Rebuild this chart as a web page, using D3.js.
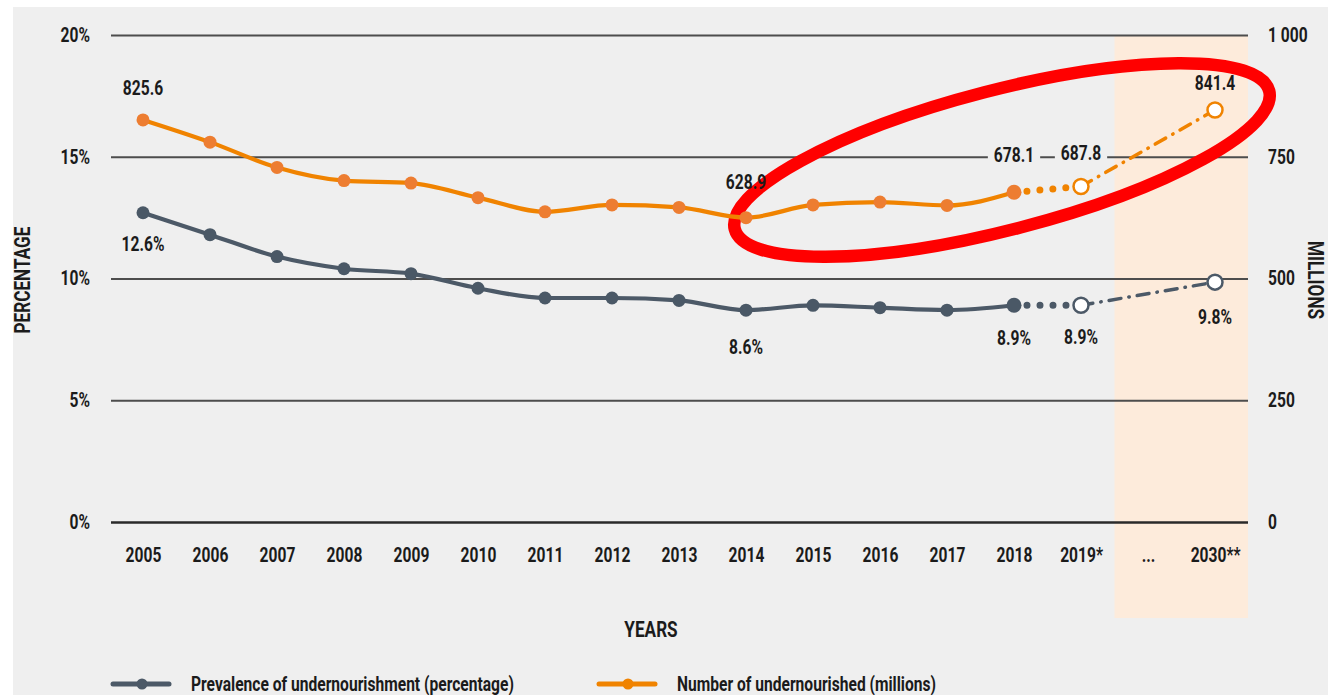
<!DOCTYPE html>
<html>
<head>
<meta charset="utf-8">
<script src="https://cdn.jsdelivr.net/npm/d3@7"></script>
<style>
	body { margin: 0; background: #ffffff; }
	svg text {
		font-family: "Roboto", "DejaVu Sans Condensed", sans-serif;
		font-weight: bold;
		fill: #1b1b1b;
	}
	.cond { transform-box: fill-box; transform: scaleX(0.78); }
	.title { transform-box: fill-box; transform: scaleX(0.78); }
	.mid { transform-origin: center; }
	.end { transform-origin: right center; }
	.start { transform-origin: left center; }
</style>
</head>
<body>
<svg id="chart" width="1328" height="695"></svg>
<script>
// Chart data
const years = ["2005", "2006", "2007", "2008", "2009", "2010", "2011", "2012", "2013", "2014", "2015", "2016", "2017", "2018", "2019*", "...", "2030**"];
const prevalence = [12.7, 11.8, 10.9, 10.4, 10.2, 9.6, 9.2, 9.2, 9.1, 8.7, 8.9, 8.8, 8.7, 8.9, 8.9, null, 9.85];
const undernourished = [825.6, 780, 728, 701, 696, 666, 637, 651, 646, 625, 651, 657, 650, 677, 689, null, 846];
const leftTicks = [0, 5, 10, 15, 20];
const rightTicks = [0, 250, 500, 750, 1000];
const prevalenceLabels = [["2005", "12.6%"], ["2014", "8.6%"], ["2018", "8.9%"], ["2019*", "8.9%"], ["2030**", "9.8%"]];
const numberLabels = [["2005", "825.6"], ["2014", "628.9"], ["2018", "678.1"], ["2019*", "687.8"], ["2030**", "841.4"]];
const projected = ["2019*", "2030**"];

const grey = "#4c5967";
const orange = "#f08300";
const orangeDot = "#ed7d31";
const panel = "#efefef";
const shadeColor = "#fdebdb";
const textScale = 0.78;
// label offsets from their point (pixels)
const numberLabelDy = [-32, -36, -37, -34, -27];
const prevalenceLabelDy = [31, 37, 33, 32, 35];

const svg = d3.select("#chart");

const x = d3.scalePoint().domain(years).range([143, 1215]);
const yL = d3.scaleLinear().domain([0, 20]).range([522, 35]);
const yR = d3.scaleLinear().domain([0, 1000]).range([522, 35]);
const gridLeft = 111;
const gridRight = 1248;

const spaceFormat = d3.formatLocale({ decimal: ".", thousands: " ", grouping: [3], currency: ["", ""] }).format(",");

// background panel
svg.append("rect").attr("x", 13).attr("y", 7).attr("width", 1315).attr("height", 688).attr("fill", panel);

// projection band
const bandX0 = (x("2019*") + x("...")) / 2;
svg.append("rect")
	.attr("x", bandX0).attr("y", yL(20))
	.attr("width", gridRight - bandX0).attr("height", 618 - yL(20))
	.attr("fill", shadeColor);

// left axis + gridlines
const leftAxis = svg.append("g")
	.attr("transform", `translate(${gridLeft},0)`)
	.call(d3.axisLeft(yL).tickValues(leftTicks).tickSize(-(gridRight - gridLeft)).tickPadding(21).tickFormat((d) => d + "%"));
leftAxis.select(".domain").remove();
leftAxis.selectAll("line")
	.attr("stroke", (d) => (d === 0 ? "#2a2a2a" : "#4d4d4d"))
	.attr("stroke-width", (d) => (d === 0 ? 2.6 : 2));
leftAxis.selectAll("text").attr("class", "cond end").style("font-size", "20px").attr("fill", "#1b1b1b");

// right axis
const rightAxis = svg.append("g")
	.attr("transform", `translate(${gridRight},0)`)
	.call(d3.axisRight(yR).tickValues(rightTicks).tickSize(0).tickPadding(20).tickFormat(spaceFormat));
rightAxis.select(".domain").remove();
rightAxis.selectAll("text").attr("class", "cond start").style("font-size", "20px").attr("fill", "#1b1b1b");

// bottom axis labels
const bottomAxis = svg.append("g")
	.attr("transform", `translate(0,${yL(0)})`)
	.call(d3.axisBottom(x).tickSize(0).tickPadding(26));
bottomAxis.select(".domain").remove();
bottomAxis.selectAll("text").attr("class", "cond mid").style("font-size", "20px").attr("fill", "#1b1b1b");

// axis titles
function title(tx, ty, angle, txt) {
	svg.append("g")
		.attr("transform", `translate(${tx},${ty}) rotate(${angle})`)
		.append("text").attr("class", "title mid")
		.attr("text-anchor", "middle").attr("dy", "0.36em")
		.style("font-size", "22px")
		.text(txt);
}
title(22, 280, -90, "PERCENTAGE");
title(1316, 280, 90, "MILLIONS");
title(651, 629, 0, "YEARS");

// red ellipse annotation (under the series)
svg.append("ellipse")
	.attr("cx", 1002).attr("cy", 160).attr("rx", 276).attr("ry", 70)
	.attr("transform", "rotate(-14.5 1002 160)")
	.attr("fill", "none").attr("stroke", "#ff0000").attr("stroke-width", 12.5);

// series drawing
function drawSeries(values, scale, lineColor, dotColor) {
	const pts = years.map((y, i) => ({ year: y, v: values[i] })).filter((d) => d.v !== null);
	const g = svg.append("g");
	const line = d3.line().x((d) => x(d.year)).y((d) => scale(d.v));
	const idx18 = pts.findIndex((d) => d.year === "2018");

	g.append("path")
		.attr("d", d3.line().x((d) => x(d.year)).y((d) => scale(d.v)).curve(d3.curveMonotoneX)(pts.slice(0, idx18 + 1)))
		.attr("fill", "none").attr("stroke", lineColor).attr("stroke-width", 4.2);
	g.append("path")
		.attr("d", line(pts.slice(idx18, idx18 + 2)))
		.attr("fill", "none").attr("stroke", lineColor).attr("stroke-width", 7)
		.attr("stroke-linecap", "round").attr("stroke-dasharray", "0 13");
	g.append("path")
		.attr("d", line(pts.slice(idx18 + 1)))
		.attr("fill", "none").attr("stroke", lineColor).attr("stroke-width", 3.5)
		.attr("stroke-linecap", "round").attr("stroke-dasharray", "12 8 0.5 8");

	g.selectAll("circle")
		.data(pts)
		.join("circle")
		.attr("cx", (d) => x(d.year))
		.attr("cy", (d) => scale(d.v))
		.attr("r", (d) => (projected.includes(d.year) ? 7.5 : d.year === "2018" ? 7.5 : 6.5))
		.attr("fill", (d) => (projected.includes(d.year) ? "#ffffff" : dotColor))
		.attr("stroke", (d) => (projected.includes(d.year) ? lineColor : "none"))
		.attr("stroke-width", 2.5);
}

drawSeries(prevalence, yL, grey, "#4a5866");
drawSeries(undernourished, yR, orange, orangeDot);

// value labels; a background box only where a label sits on a gridline
function drawLabels(labels, values, scale, offsets) {
	labels.forEach(([year, txt], k) => {
		const i = years.indexOf(year);
		const cx = x(year);
		const cy = scale(values[i]) + offsets[k];
		const t = svg.append("text").attr("class", "cond mid")
			.attr("x", cx).attr("y", cy).attr("dy", "0.36em")
			.attr("text-anchor", "middle").style("font-size", "20px")
			.text(txt);
		const onGrid = leftTicks.some((v) => Math.abs(yL(v) - cy) < 11);
		if (onGrid) {
			const w = t.node().getBBox().width * textScale + 12;
			svg.insert("rect", () => t.node())
				.attr("x", cx - w / 2).attr("y", cy - 10)
				.attr("width", w).attr("height", 20)
				.attr("fill", cx > bandX0 ? shadeColor : panel);
		}
	});
}
drawLabels(numberLabels, undernourished, yR, numberLabelDy);
drawLabels(prevalenceLabels, prevalence, yL, prevalenceLabelDy);

// legend
const legendItems = [
	{ label: "Prevalence of undernourishment (percentage)", color: grey, x0: 113 },
	{ label: "Number of undernourished (millions)", color: orange, x0: 599 },
];
const legend = svg.append("g").attr("transform", "translate(0,684)");
legendItems.forEach((d) => {
	legend.append("line").attr("x1", d.x0).attr("x2", d.x0 + 56).attr("y1", 0).attr("y2", 0)
		.attr("stroke", d.color).attr("stroke-width", 5).attr("stroke-linecap", "round");
	legend.append("circle").attr("cx", d.x0 + 29).attr("cy", 0).attr("r", 5.5).attr("fill", d.color);
	legend.append("text").attr("class", "cond start")
		.attr("x", d.x0 + 78).attr("y", 0).attr("dy", "0.36em")
		.style("font-size", "20px").text(d.label);
});
</script>
</body>
</html>
